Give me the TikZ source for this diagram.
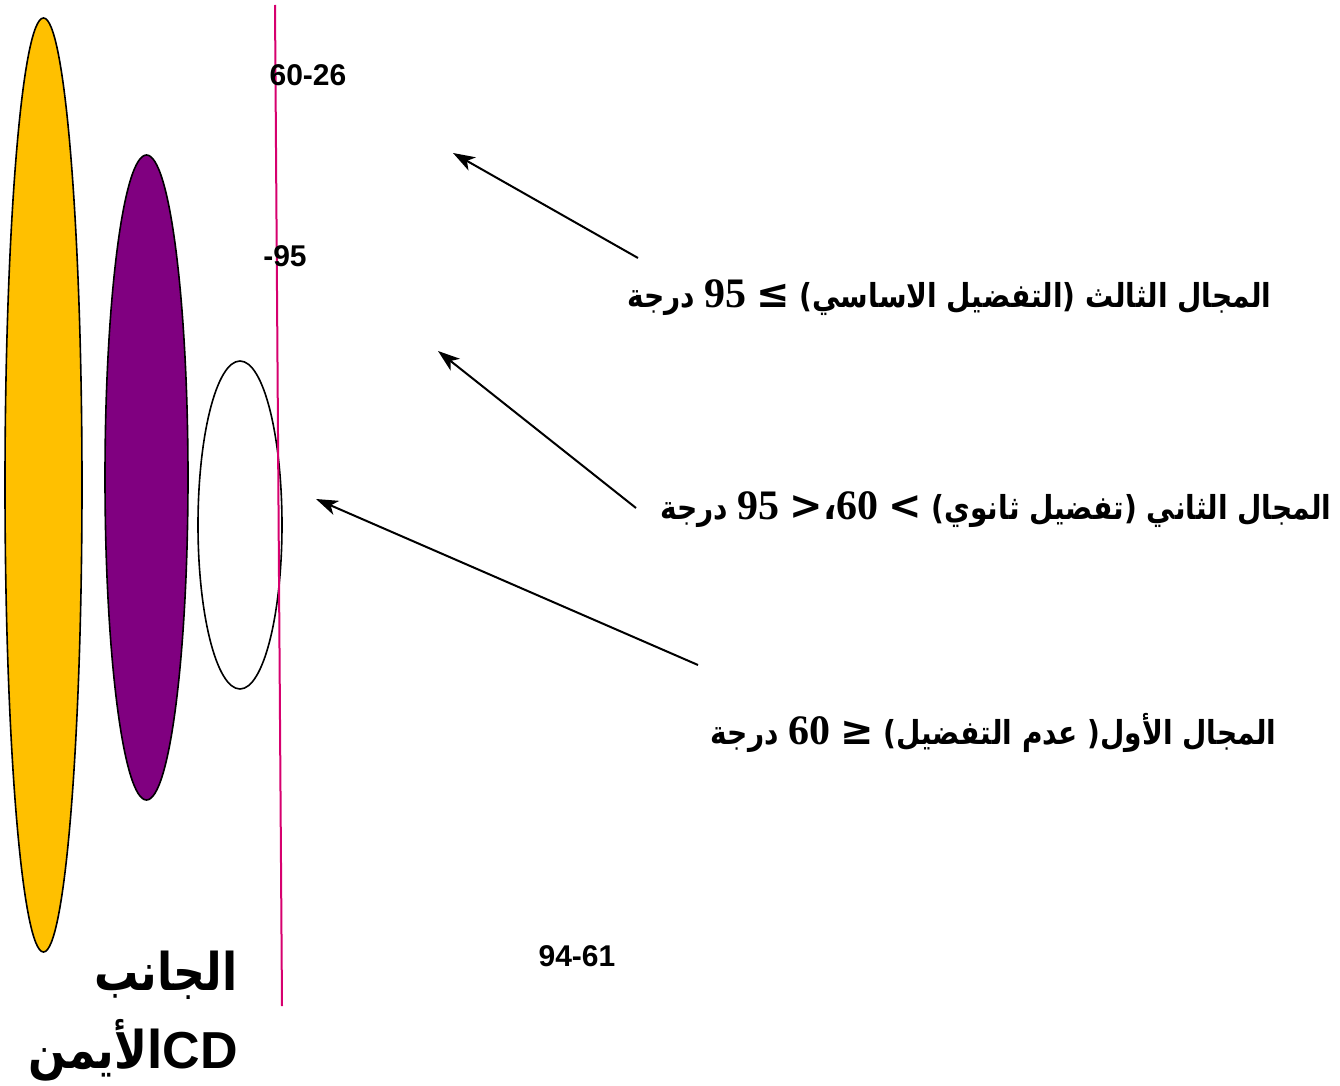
\documentclass[tikz,border=0pt]{standalone}
\usepackage{fontspec}
\usepackage{graphicx}
\setmainfont{Liberation Sans}
\newfontfamily\arabicfont[Script=Arabic, FakeStretch=0.85]{DejaVu Sans}
\newfontfamily\numfont{Liberation Serif}
\newfontfamily\relfont{DejaVu Sans}
\TeXXeTstate=1
\usetikzlibrary{shapes.geometric,arrows.meta}
\definecolor{ellyellow}{RGB}{255,192,0}
\definecolor{ellpurple}{RGB}{128,0,128}
\definecolor{axisline}{RGB}{214,0,110}
\tikzset{
  ell/.style={draw=black, line width=0.8pt, ellipse, inner sep=0pt},
  pointer/.style={draw=black, line width=1pt, -{Stealth[length=11pt,width=7.5pt,inset=3pt]}},
  lab/.style={inner sep=0pt, font=\arabicfont\bfseries\fontsize{16.5}{18}\selectfont},
  numlab/.style={inner sep=0pt, font=\bfseries\fontsize{15}{17}\selectfont},
  sidelab/.style={inner sep=0pt, font=\arabicfont\bfseries\fontsize{26}{30}\selectfont}
}
\newcommand{\nm}[1]{{\numfont\bfseries\fontsize{21}{23}\selectfont #1}}
\newcommand{\rl}[1]{{\relfont\bfseries\fontsize{20}{23}\selectfont #1}}
\begin{document}
\begin{tikzpicture}[x=0.5pt,y=-0.5pt]
\useasboundingbox (0,0) rectangle (1340,1086);
% ellipses
\node[ell, fill=ellyellow, minimum width=38.5pt, minimum height=467pt] (yel) at (43.5,485) {};
\node[ell, fill=ellpurple, minimum width=41.5pt, minimum height=322.5pt] (pur) at (146.5,477.5) {};
\node[ell, fill=white, minimum width=42pt, minimum height=164pt] (wht) at (240,525) {};
% axis line
\coordinate (ltop) at (275,5);
\coordinate (lbot) at (282,1006);
\draw[axisline, line width=1pt] (ltop) -- (lbot);
% number labels
\node[numlab] (n1) at (308,75) {60-26};
\node[numlab] (n2) at (285,256) {-95};
\node[numlab] (n3) at (577,956) {94-61};
% domain labels
\node[lab, anchor=east] (l1) at (1272,298) {\beginR المجال الثالث (التفضيل الاساسي) \beginL\nm{95} \rl{≤}\endL{} درجة\endR};
\node[lab, anchor=east] (l2) at (1332,510) {\beginR المجال الثاني (تفضيل ثانوي) \beginL\nm{95} \rl{>}{\arabicfont\bfseries\fontsize{21}{23}\selectfont ،}\nm{60} \rl{<}\endL{} درجة\endR};
\node[lab, anchor=east] (l3) at (1277,733) {\beginR المجال الأول( عدم التفضيل) \beginL\nm{60} \rl{≥}\endL{} درجة\endR};
% side labels
\node[sidelab, anchor=east] (s1) at (238,975) {\beginR الجانب\endR};
\node[sidelab, anchor=east] (s2) at (238,1050) {\beginR الأيمن\endR{\rmfamily\bfseries CD}};
% arrows
\coordinate (a1s) at (638,258);
\coordinate (a1e) at (453,153);
\coordinate (a2s) at (636,508);
\coordinate (a2e) at (438,351);
\coordinate (a3s) at (698,665);
\coordinate (a3e) at (316,499);
\draw[pointer] (a1s) -- (a1e);
\draw[pointer] (a2s) -- (a2e);
\draw[pointer] (a3s) -- (a3e);
\end{tikzpicture}
\end{document}
